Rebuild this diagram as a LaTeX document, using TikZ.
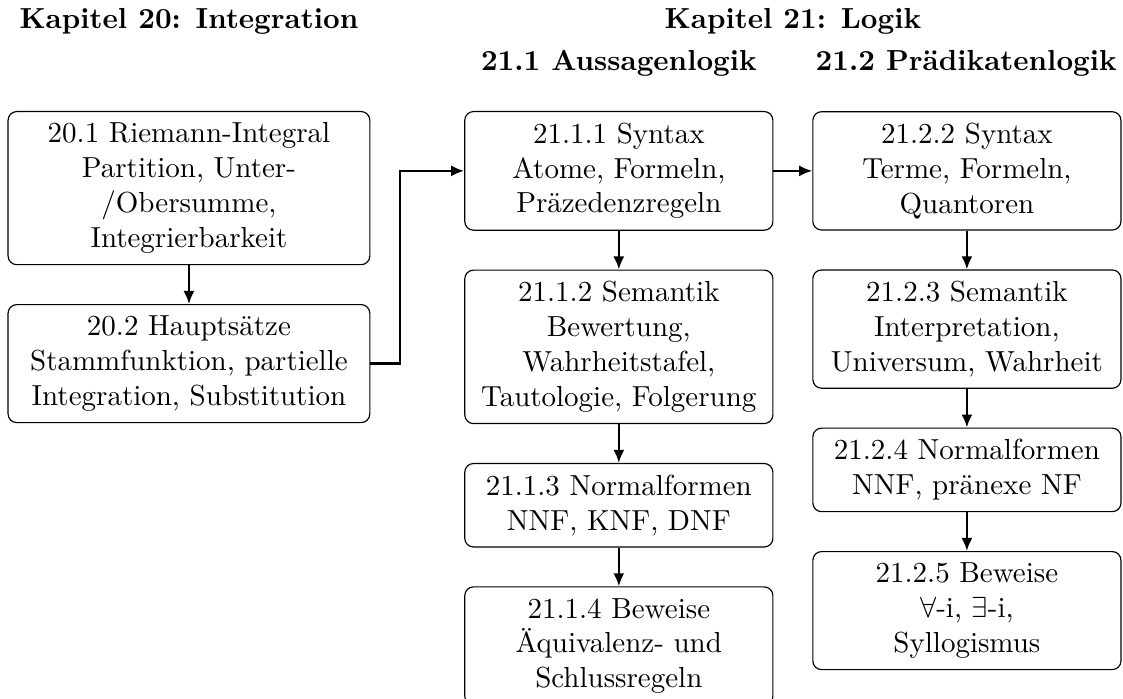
\documentclass[tikz,border=0pt]{standalone}
\usepackage{amssymb}
\usepackage{tikz}
\usetikzlibrary{arrows.meta}
\usetikzlibrary{positioning}
\tikzset{topic/.style = {draw, rounded corners = 3pt, align = center, text width = 3.5cm, inner ysep = 3.9pt}}
\tikzset{widetopic/.style = {topic, text width = 4.15cm}}
\tikzset{head/.style = {font = \bfseries, anchor = base}}
\tikzset{link/.style = {thick, -{Latex[length = 4.5pt, width = 3.8pt]}}}

\begin{document}
\begin{tikzpicture}[node distance = 0.47cm]
    \useasboundingbox (0, 0) rectangle (13.61, -8.47);
    \node [head] (kap20) at (2.29, -0.35) {Kapitel 20: Integration};
    \node [head] (kap21) at (9.61, -0.35) {Kapitel 21: Logik};
    \node [head] (aussage) at (7.50, -0.85) {21.1 Aussagenlogik};
    \node [head] (praedikat) at (11.71, -0.85) {21.2 Prädikatenlogik};
    \node [widetopic, anchor = north] (riemann) at (2.29, -1.345) {20.1 Riemann-Integral\\ Partition, Unter-\\/Obersumme,\\ Integrierbarkeit};
    \node [widetopic, below = of riemann] (haupt) {20.2 Hauptsätze\\ Stammfunktion, partielle\\ Integration, Substitution};
    \node [topic, anchor = north] (syntaxA) at (7.50, -1.345) {21.1.1 Syntax\\ Atome, Formeln,\\ Präzedenzregeln};
    \node [topic, below = of syntaxA] (semA) {21.1.2 Semantik\\ Bewertung,\\ Wahrheitstafel,\\ Tautologie, Folgerung};
    \node [topic, below = of semA] (normA) {21.1.3 Normalformen\\ NNF, KNF, DNF};
    \node [topic, below = of normA] (bewA) {21.1.4 Beweise\\ Äquivalenz- und\\ Schlussregeln};
    \node [topic, right = of syntaxA] (syntaxP) {21.2.2 Syntax\\ Terme, Formeln,\\ Quantoren};
    \node [topic, below = of syntaxP] (semP) {21.2.3 Semantik\\ Interpretation,\\ Universum, Wahrheit};
    \node [topic, below = of semP] (normP) {21.2.4 Normalformen\\ NNF, pränexe NF};
    \node [topic, below = of normP] (bewP) {21.2.5 Beweise\\ $\forall$-i, $\exists$-i,\\ Syllogismus};
    \draw [link] (riemann) -- (haupt);
    \draw [link] (haupt.east) -- ++(0.36, 0) |- (syntaxA.west);
    \draw [link] (syntaxA) -- (syntaxP);
    \draw [link] (syntaxA) -- (semA);
    \draw [link] (semA) -- (normA);
    \draw [link] (normA) -- (bewA);
    \draw [link] (syntaxP) -- (semP);
    \draw [link] (semP) -- (normP);
    \draw [link] (normP) -- (bewP);
  \end{tikzpicture}
\end{document}
